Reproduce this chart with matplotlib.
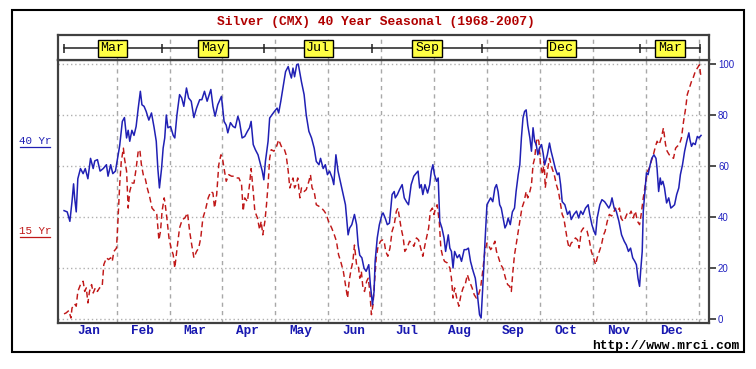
import numpy as np
import matplotlib.pyplot as plt
from matplotlib.lines import Line2D
from matplotlib.patches import Rectangle

# x = month of the year (0 = Jan 1, 12 = Dec 31), y = seasonal index 0..100
months = ['Jan', 'Feb', 'Mar', 'Apr', 'May', 'Jun',
          'Jul', 'Aug', 'Sep', 'Oct', 'Nov', 'Dec']
contract_labels = ['Mar', 'May', 'Jul', 'Sep', 'Dec', 'Mar']
contract_edges = [0.0, 1.85, 3.79, 5.82, 7.90, 10.88, 12.01]
yticks = [0, 20, 40, 60, 80, 100]

yr40 = [
    (0.01, 42.5), (0.07, 42), (0.12, 38.3), (0.16, 46), (0.19, 53), (0.21, 47.5), (0.24, 42), (0.27, 55),
    (0.32, 59), (0.37, 57), (0.41, 59), (0.46, 55), (0.51, 63), (0.56, 59), (0.59, 62), (0.64, 62.5),
    (0.69, 58), (0.75, 59), (0.81, 60.5), (0.84, 56), (0.89, 60.5), (0.93, 57), (0.98, 58), (1.02, 63),
    (1.06, 68), (1.11, 77.5), (1.15, 79), (1.19, 71), (1.22, 74), (1.25, 69.7), (1.29, 74), (1.33, 72),
    (1.37, 75.5), (1.41, 82.7), (1.45, 89.3), (1.48, 84), (1.52, 83.4), (1.56, 81.4), (1.61, 78), (1.66, 80.8),
    (1.71, 75), (1.75, 69.7), (1.78, 59), (1.81, 51.4), (1.85, 59), (1.88, 67), (1.91, 71), (1.94, 80),
    (1.97, 75), (2.02, 75.5), (2.07, 72), (2.10, 71), (2.14, 80), (2.19, 88), (2.23, 86.7), (2.27, 83.4),
    (2.32, 90.6), (2.36, 86.7), (2.41, 85.4), (2.46, 79), (2.51, 82.7), (2.57, 86), (2.61, 86), (2.66, 89.3),
    (2.71, 85.4), (2.78, 90), (2.82, 83.4), (2.86, 79.5), (2.91, 84), (2.98, 87.3),
    (3.03, 77.5), (3.07, 76), (3.10, 73), (3.15, 77), (3.20, 75.5), (3.24, 75), (3.29, 79.5), (3.32, 77.5),
    (3.37, 71), (3.42, 71.6), (3.47, 73.6), (3.51, 75), (3.54, 77.5), (3.58, 68.4), (3.62, 66.4), (3.67, 64.4),
    (3.72, 60.5), (3.75, 58), (3.78, 54.6), (3.81, 61.8), (3.86, 69.7), (3.89, 78.8), (3.93, 80), (3.98, 81.4),
    (4.03, 82.7), (4.06, 80.8), (4.10, 85.4), (4.14, 90.6), (4.19, 97), (4.24, 99), (4.27, 96.5), (4.30, 94.5),
    (4.33, 98.4), (4.36, 95), (4.40, 99.7), (4.43, 100), (4.46, 96.5), (4.49, 93), (4.54, 88), (4.58, 80),
    (4.63, 73.6), (4.68, 71), (4.73, 67), (4.77, 61.8), (4.82, 60.5), (4.85, 63), (4.90, 59), (4.94, 60.5),
    (4.98, 56.6), (5.02, 58), (5.07, 55.3), (5.10, 52.7), (5.14, 64.4), (5.18, 58), (5.23, 53.3), (5.28, 48.8),
    (5.32, 44.8), (5.37, 33), (5.40, 35.7), (5.44, 37), (5.49, 41), (5.53, 37), (5.56, 29), (5.59, 25),
    (5.63, 24), (5.67, 20), (5.71, 18.7), (5.76, 21.3), (5.79, 13.5), (5.83, 5.6), (5.86, 10.8), (5.88, 22.6),
    (5.92, 31.8), (5.96, 37), (6.01, 41),
    (6.03, 41.6), (6.07, 39.6), (6.11, 37), (6.15, 37.6), (6.20, 48.8), (6.24, 50), (6.26, 47.5), (6.30, 48.8),
    (6.34, 50.7), (6.39, 52.7), (6.43, 47.5), (6.47, 46), (6.51, 44.8), (6.56, 52.7), (6.61, 56), (6.66, 57.3),
    (6.69, 58), (6.72, 51.4), (6.75, 52.7), (6.78, 48.8), (6.82, 52.7), (6.87, 49.4), (6.91, 52.7), (6.94, 58),
    (6.97, 60.5), (7.00, 56.6), (7.04, 54), (7.07, 55.3), (7.10, 38.3), (7.14, 35.7), (7.18, 31.8), (7.21, 26.5),
    (7.26, 33), (7.29, 27.8), (7.32, 26.5), (7.35, 20), (7.38, 26.5), (7.43, 24), (7.47, 25.2), (7.51, 22.6),
    (7.56, 27.2), (7.60, 27.2), (7.64, 27.8), (7.68, 22.6), (7.73, 18.7), (7.77, 16), (7.81, 9.5), (7.85, 1.7),
    (7.88, 0.4), (7.92, 16), (7.95, 29), (7.99, 44.8), (8.02, 46), (8.06, 47.5), (8.10, 46), (8.14, 51.4),
    (8.17, 52.7), (8.20, 50), (8.23, 44.8), (8.26, 43.5), (8.30, 39), (8.33, 35.7), (8.36, 37), (8.39, 39.6),
    (8.43, 37), (8.47, 42), (8.51, 43.5), (8.54, 50), (8.58, 56.6), (8.61, 60.5), (8.64, 71), (8.67, 78.8),
    (8.70, 81.4), (8.73, 82), (8.76, 76), (8.80, 71), (8.83, 65.8), (8.86, 75), (8.89, 69.7), (8.92, 68.4),
    (8.95, 64.4), (8.98, 67), (9.02, 68.4), (9.05, 65),
    (9.08, 60.5), (9.13, 64.4), (9.17, 69), (9.20, 65.8), (9.24, 62.5), (9.28, 59), (9.32, 56.6), (9.35, 57.3),
    (9.38, 52.7), (9.41, 46), (9.46, 44.8), (9.51, 41), (9.55, 42.3), (9.58, 39), (9.63, 41), (9.68, 42.3),
    (9.72, 39.6), (9.76, 42.3), (9.80, 41), (9.85, 43.5), (9.90, 44.8), (9.93, 41), (9.97, 37), (10.01, 34.4),
    (10.04, 33), (10.07, 39.6), (10.12, 44.8), (10.16, 46.8), (10.21, 46), (10.25, 44.8), (10.29, 43.5),
    (10.32, 44.8), (10.35, 47.5), (10.39, 43.5), (10.43, 42.3), (10.48, 38.3), (10.53, 33), (10.58, 30.5),
    (10.62, 29), (10.66, 26.5), (10.70, 27.8), (10.74, 24), (10.78, 22.6), (10.81, 21.3), (10.84, 16),
    (10.87, 12.8), (10.89, 18.7), (10.92, 26.5), (10.94, 42.3), (10.97, 50), (11.00, 57.3), (11.03, 56.6),
    (11.07, 60.5), (11.10, 63), (11.14, 64.4), (11.18, 63), (11.20, 59), (11.23, 50), (11.26, 55.3),
    (11.28, 52.7), (11.31, 54), (11.34, 51.4), (11.38, 45.5), (11.42, 47.5), (11.46, 43.5), (11.49, 44),
    (11.53, 44.8), (11.57, 48.8), (11.61, 51.4), (11.64, 56.6), (11.68, 60.5), (11.72, 65.8), (11.76, 69.7),
    (11.80, 73), (11.82, 70.3), (11.85, 67.7), (11.88, 69), (11.92, 68.4), (11.96, 71.6), (11.99, 71), (12.03, 72),
]

yr15 = [
    (0.01, 2), (0.05, 2.4), (0.10, 3.3), (0.14, 0.4), (0.16, 4.3), (0.21, 5.9), (0.24, 5), (0.27, 10.8),
    (0.32, 13.5), (0.37, 14.8), (0.40, 10.8), (0.43, 12.2), (0.46, 6.3), (0.49, 10.8), (0.53, 13.5), (0.56, 10.2),
    (0.60, 12.2), (0.64, 10.8), (0.68, 12.2), (0.73, 12.8), (0.76, 21.3), (0.81, 24), (0.85, 23.3), (0.89, 24),
    (0.92, 22.6), (0.95, 26.5), (1.00, 27.8), (1.03, 39.6), (1.06, 52.7), (1.09, 61.8), (1.13, 67), (1.15, 63),
    (1.19, 58), (1.22, 43.5), (1.25, 50), (1.29, 53.3), (1.33, 53.3), (1.37, 59), (1.41, 65.8), (1.44, 66.4),
    (1.47, 60.5), (1.51, 56), (1.54, 55.3), (1.58, 51.4), (1.63, 47.5), (1.67, 43.5), (1.72, 42.3), (1.76, 41),
    (1.80, 31), (1.83, 34.4), (1.86, 42.3), (1.90, 47.5), (1.92, 44.8), (1.95, 39.6), (1.99, 31.8), (2.03, 27.8),
    (2.07, 25.2), (2.10, 20), (2.15, 29), (2.19, 35.7), (2.24, 39), (2.29, 39.6), (2.34, 41.6), (2.38, 34.4),
    (2.42, 29), (2.46, 24), (2.51, 26.5), (2.55, 27.8), (2.59, 31.8), (2.63, 39.6), (2.68, 42.9), (2.73, 47.5),
    (2.78, 50), (2.82, 49.4), (2.85, 43.5), (2.89, 48.8), (2.93, 60.5), (2.97, 64.4), (3.00, 63),
    (3.03, 59), (3.07, 54), (3.12, 56.6), (3.17, 56), (3.22, 56), (3.26, 55.3), (3.31, 55.3), (3.36, 52.7),
    (3.39, 42.3), (3.42, 47.5), (3.47, 46), (3.51, 52.7), (3.54, 59), (3.58, 50), (3.61, 42.3), (3.66, 39.6),
    (3.70, 35), (3.73, 38.3), (3.76, 33), (3.80, 38.3), (3.83, 44.8), (3.86, 52.7), (3.89, 63), (3.92, 66.4),
    (3.97, 65.8), (4.02, 67.7), (4.06, 70.3), (4.11, 67.7), (4.16, 67), (4.20, 64.4), (4.24, 58), (4.27, 51.4),
    (4.30, 53.3), (4.33, 55.3), (4.36, 51.4), (4.39, 52.7), (4.42, 55.3), (4.46, 47.5), (4.49, 51.4), (4.54, 50),
    (4.58, 50.7), (4.63, 54), (4.66, 56.6), (4.69, 51.4), (4.73, 50), (4.77, 44.8), (4.82, 44.2), (4.87, 43.5),
    (4.92, 42.3), (4.96, 41), (5.00, 38.3), (5.06, 35.7), (5.11, 33), (5.15, 30.5), (5.19, 25.2), (5.23, 22.6),
    (5.28, 18.7), (5.32, 13.5), (5.36, 8.2), (5.39, 14.8), (5.42, 18.7), (5.46, 22.6), (5.49, 29), (5.53, 21.3),
    (5.56, 21.3), (5.59, 16), (5.62, 18.7), (5.65, 12.2), (5.68, 10.8), (5.72, 14.8), (5.75, 16), (5.78, 10.8),
    (5.81, 1.7), (5.84, 5.6), (5.87, 14.8), (5.90, 24), (5.93, 27.8), (5.98, 30.5), (6.02, 31),
    (6.05, 30.5), (6.08, 26.5), (6.12, 24.6), (6.16, 27.8), (6.20, 34.4), (6.24, 37), (6.28, 42.2), (6.31, 43.5),
    (6.34, 39.6), (6.37, 35.7), (6.41, 31.8), (6.44, 26.5), (6.48, 27.8), (6.53, 30.5), (6.58, 29.8), (6.61, 28.5),
    (6.66, 31.8), (6.70, 31), (6.74, 27.8), (6.78, 24.6), (6.82, 29), (6.85, 31.8), (6.89, 35.7), (6.92, 42.2),
    (6.96, 43.5), (6.99, 41), (7.02, 43.5), (7.05, 44.8), (7.09, 38.3), (7.12, 27.8), (7.16, 24), (7.19, 22.6),
    (7.24, 22), (7.29, 20), (7.32, 16), (7.35, 8.2), (7.38, 12.2), (7.42, 8.2), (7.46, 5), (7.50, 9.5),
    (7.54, 12.2), (7.58, 13.5), (7.62, 17.4), (7.66, 14.8), (7.71, 12.2), (7.75, 9.5), (7.79, 8.2), (7.83, 9.5),
    (7.87, 12.2), (7.91, 18.7), (7.95, 26.5), (7.99, 29.8), (8.02, 29), (8.06, 27.2), (8.10, 28.5), (8.14, 30.5),
    (8.17, 26.5), (8.21, 24), (8.25, 21.3), (8.29, 20), (8.34, 16), (8.38, 13.5), (8.42, 12.8), (8.45, 10.8),
    (8.48, 18.7), (8.51, 25.2), (8.54, 29), (8.58, 34.4), (8.61, 38.3), (8.65, 43.5), (8.69, 46), (8.73, 50),
    (8.76, 47.5), (8.80, 50), (8.83, 52.7), (8.86, 60.5), (8.89, 63), (8.93, 71), (8.97, 69.7), (9.00, 60.5),
    (9.04, 56.6),
    (9.07, 61.8), (9.09, 51.4), (9.13, 58), (9.17, 63), (9.22, 59), (9.26, 56.6), (9.30, 52.7), (9.34, 50),
    (9.38, 44.8), (9.41, 41), (9.44, 39.6), (9.48, 34.4), (9.51, 30.5), (9.54, 27.8), (9.58, 29.8), (9.62, 30.5),
    (9.66, 31.8), (9.70, 31), (9.73, 27.8), (9.77, 34.4), (9.81, 35.7), (9.85, 35), (9.88, 34.4), (9.92, 31),
    (9.96, 26.5), (10.00, 24), (10.04, 21.3), (10.07, 24), (10.11, 26.5), (10.15, 29), (10.19, 33), (10.22, 34.4),
    (10.26, 38.3), (10.30, 41), (10.34, 40.4), (10.37, 41), (10.41, 43.5), (10.45, 42.3), (10.49, 43.5),
    (10.52, 39.6), (10.56, 38.3), (10.60, 39.6), (10.64, 41.6), (10.68, 41), (10.71, 42.3), (10.75, 39.6),
    (10.79, 42.3), (10.83, 38.3), (10.87, 37), (10.90, 41), (10.94, 47.5), (10.98, 52.7), (11.02, 58),
    (11.05, 59), (11.09, 61.8), (11.13, 64.4), (11.17, 67.7), (11.20, 69.7), (11.24, 68.4), (11.28, 71),
    (11.32, 74.9), (11.36, 68.4), (11.39, 65.8), (11.43, 64.4), (11.47, 63.8), (11.51, 63), (11.55, 67),
    (11.58, 67.7), (11.62, 68.4), (11.66, 71), (11.70, 77.5), (11.74, 82.7), (11.77, 88), (11.81, 90.6),
    (11.85, 93.2), (11.88, 94.5), (11.92, 97), (11.96, 98.4), (12.00, 99.7), (12.03, 94.5),
]

BLUE = '#2020b4'
RED = '#c01818'
MONO = 'Liberation Mono'
W, H = 756, 369


def px_rect(x0, y0, x1, y1):
    # figure rectangle from pixel box (top-left origin)
    return [x0 / W, 1 - y1 / H, (x1 - x0) / W, (y1 - y0) / H]


fig = plt.figure(figsize=(W / 100, H / 100), dpi=100)
fig.patch.set_facecolor('white')

ax = fig.add_axes(px_rect(58, 60, 709, 323))
band = fig.add_axes(px_rect(58, 35, 709, 60), sharex=ax)

x15, y15 = zip(*yr15)
x40, y40 = zip(*yr40)
ax.plot(x15, y15, color=RED, lw=1.05, ls=(0, (4, 2.5)))
ax.plot(x40, y40, color=BLUE, lw=1.1)

ax.set_xlim(-0.104, 12.18)
ax.set_ylim(-1.57, 101.57)

# month boundaries -> dashed grid, month names centred below
ax.set_xticks(range(1, 13))
ax.set_xticks(np.arange(12) + 0.48, minor=True)
ax.set_xticklabels(months, minor=True)
ax.tick_params(axis='x', which='major', length=0, labelbottom=False)
ax.tick_params(axis='x', which='minor', length=0, pad=1.5)
for t in ax.get_xticklabels(minor=True):
    t.set_fontfamily(MONO)
    t.set_fontweight('bold')
    t.set_fontsize(9.2)
    t.set_color('#1818b0')
ax.grid(axis='x', which='major', ls=(0, (3, 3)), color='#a8a8a8', lw=1.0)

ax.set_yticks(yticks)
ax.yaxis.tick_right()
ax.tick_params(axis='y', direction='out', length=5, width=1.2, color='#303030',
               labelcolor='#2020c0', labelsize=7, pad=1.5)
for t in ax.get_yticklabels():
    t.set_fontfamily('Liberation Sans')
ax.grid(axis='y', ls=(0, (1, 2)), color='#b0b0b0', lw=1.0)

for a in (ax, band):
    for s in a.spines.values():
        s.set_color('#404040')
        s.set_linewidth(1.6)

# contract band on top
band.set_ylim(0, 1)
band.set_yticks([])
band.tick_params(axis='x', which='both', length=0, labelbottom=False)
band.grid(axis='x', which='major', ls=(0, (3, 3)), color='#a8a8a8', lw=1.0)
band.plot([contract_edges[0], contract_edges[-1]], [0.47, 0.47], color='#202020', lw=1.1)
band.vlines(contract_edges, 0.27, 0.64, color='#202020', lw=1.1)
for i, lab in enumerate(contract_labels):
    c = (contract_edges[i] + contract_edges[i + 1]) / 2
    band.text(c, 0.47, lab, ha='center', va='center', fontsize=9.5, family=MONO,
              color='black', zorder=5,
              bbox=dict(boxstyle='square,pad=0.2', fc='#ffff44', ec='black', lw=1.0))

fig.text(376 / W, 1 - 22 / H, 'Silver (CMX) 40 Year Seasonal (1968-2007)', ha='center',
         va='center', color='#b00000', fontsize=9.4, fontweight='bold', family=MONO)

# left legend labels (underlined)
fig.text(35 / W, 1 - 141 / H, '40 Yr', ha='center', va='center', color=BLUE,
         fontsize=7.8, family=MONO)
fig.add_artist(Line2D([20 / W, 50 / W], [1 - 147 / H] * 2, color=BLUE, lw=0.9))
fig.text(35 / W, 1 - 231 / H, '15 Yr', ha='center', va='center', color=RED,
         fontsize=7.8, family=MONO)
fig.add_artist(Line2D([20 / W, 50 / W], [1 - 237 / H] * 2, color=RED, lw=0.9))

fig.text(739 / W, 1 - 346.5 / H, 'http://www.mrci.com', ha='right', va='center',
         color='black', fontsize=9.4, fontweight='bold', family=MONO)

fig.add_artist(Rectangle((12 / W, 1 - 352 / H), 732 / W, 342.5 / H, transform=fig.transFigure,
                         fill=False, ec='black', lw=1.5))

fig.savefig('out.png', dpi=100)
